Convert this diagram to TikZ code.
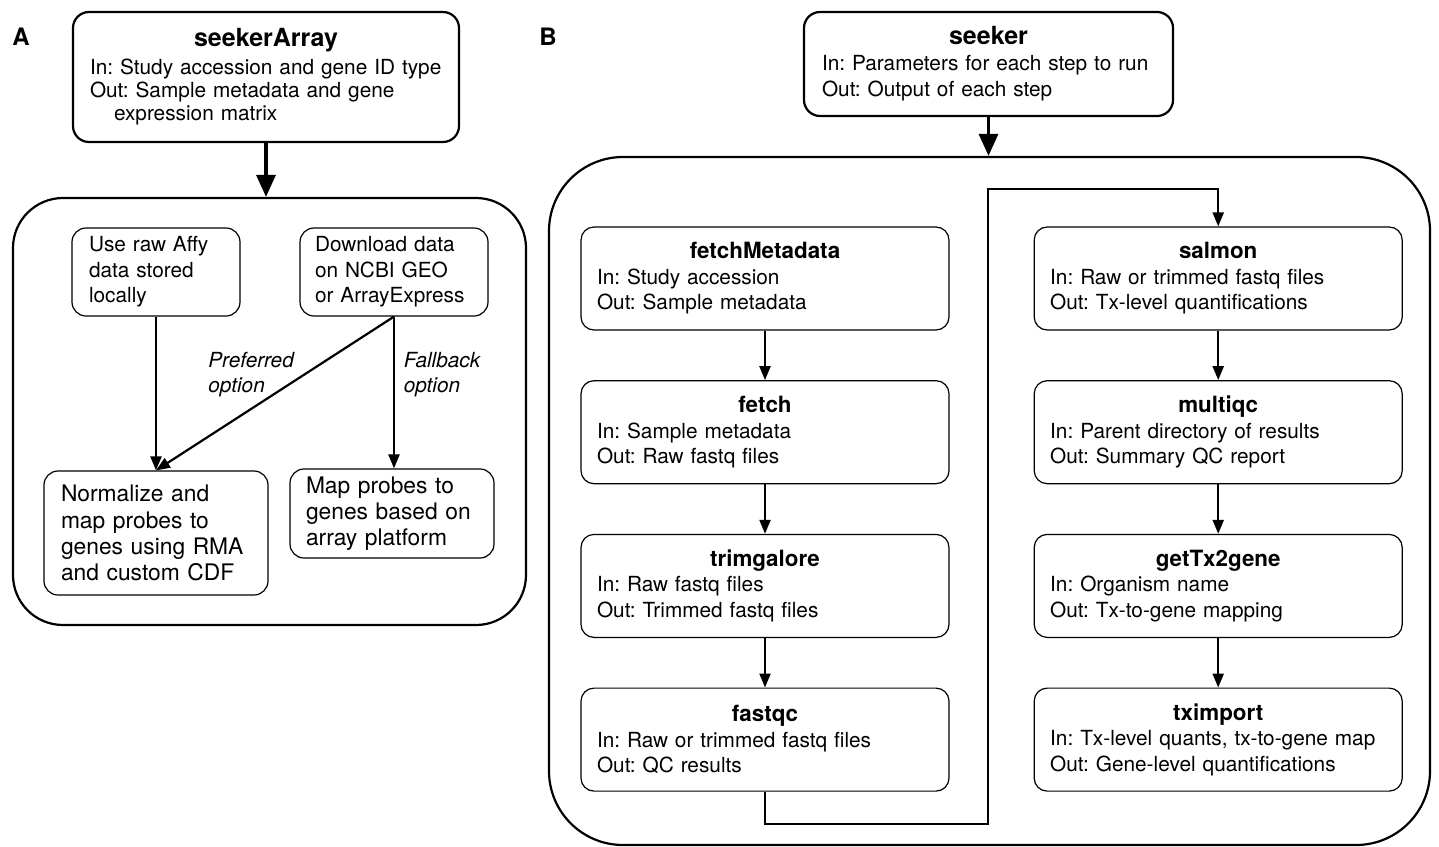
\documentclass[tikz,border=0pt]{standalone}
\usepackage{fontspec}
\setmainfont{TeX Gyre Heros}
\usetikzlibrary{arrows.meta,positioning}

\newcommand{\boxtitle}[2]{{\centering\fontsize{#1}{#1}\selectfont\bfseries #2\par}}

\begin{document}
\frenchspacing
\begin{tikzpicture}[x=0.5pt, y=-0.5pt,
    font=\fontsize{10.4}{12.75}\selectfont,
    topbox/.style={draw, line width=1.1pt, rounded corners=8pt, align=left, inner sep=0pt},
    stepbox/.style={draw, line width=0.6pt, rounded corners=6.5pt, align=left,
                    minimum width=184pt, minimum height=51.5pt, text width=168pt, inner sep=0pt},
    plainbox/.style={draw, line width=0.6pt, rounded corners=7pt, align=left, inner sep=0pt},
    panelbox/.style={draw, line width=1.1pt},
    panel/.style={font=\fontsize{12}{12}\selectfont\bfseries},
    link/.style={-{Triangle[length=7pt,width=5.5pt]}, line width=1.1pt},
    biglink/.style={-{Triangle[length=11pt,width=9.5pt]}, line width=1.6pt},
    lbl/.style={font=\fontsize{10.4}{12.5}\selectfont\itshape, align=left}]

    \useasboundingbox (0,0) rectangle (1439,846);

    % A: seekerArray
    \node[panel] (labA) at (21,37) {A};
    \node[topbox, minimum width=193pt, minimum height=65pt, text width=176pt,
          font=\fontsize{10.4}{11.5}\selectfont] (seekerArray) at (266,77)
        {\boxtitle{12.5}{seekerArray}\vspace{2.5pt}In: Study accession and gene ID type\\Out: Sample metadata and gene\\\hspace*{12pt}expression matrix};
    \node[panelbox, rounded corners=25pt, minimum width=256.5pt, minimum height=213.5pt] (arrayBox) at (269.5,411.5) {};

    \node[plainbox, minimum width=84pt, minimum height=44pt, text width=67pt] (affy) at (156,272)
        {Use raw Affy\\data stored\\locally};
    \node[plainbox, minimum width=94pt, minimum height=44pt, text width=79pt] (download) at (394,272)
        {Download data\\on NCBI GEO\\or ArrayExpress};
    \node[plainbox, minimum width=112pt, minimum height=62pt, text width=95pt,
          font=\fontsize{11.4}{13.1}\selectfont] (normalize) at (156,533)
        {Normalize and\\map probes to\\genes using RMA\\and custom CDF};
    \node[plainbox, minimum width=102pt, minimum height=44.5pt, text width=86pt,
          font=\fontsize{11.4}{13.1}\selectfont] (mapProbes) at (392,513.5)
        {Map probes to\\genes based on\\array platform};

    \draw[biglink] (seekerArray.south) -- (seekerArray.south |- arrayBox.north);
    \draw[link] (affy) -- (normalize);
    \draw[link] (download.south) -- node[lbl, pos=0.38, left=1pt]{Preferred\\option} (normalize.north);
    \draw[link] (download.south) -- node[lbl, pos=0.38, right=1pt]{Fallback\\option} (download.south |- mapProbes.north);

    % B: seeker
    \node[panel] (labB) at (548,37) {B};
    \node[topbox, minimum width=184.5pt, minimum height=52pt, text width=166.5pt,
          font=\fontsize{10.4}{13}\selectfont] (seeker) at (988.5,64)
        {\boxtitle{12.5}{seeker}In: Parameters for each step to run\\Out: Output of each step};
    \node[panelbox, rounded corners=37pt, minimum width=440.5pt, minimum height=344pt] (seekerBox) at (989.5,501) {};

    \node[stepbox] (fetchMetadata) at (765,278.5)
        {\boxtitle{11.2}{fetchMetadata}In: Study accession\\Out: Sample metadata};
    \node[stepbox, below=24.75pt of fetchMetadata] (fetch)
        {\boxtitle{11.2}{fetch}In: Sample metadata\\Out: Raw fastq files};
    \node[stepbox, below=24.75pt of fetch] (trimgalore)
        {\boxtitle{11.2}{trimgalore}In: Raw fastq files\\Out: Trimmed fastq files};
    \node[stepbox, below=24.75pt of trimgalore] (fastqc)
        {\boxtitle{11.2}{fastqc}In: Raw or trimmed fastq files\\Out: QC results};

    \node[stepbox, right=42pt of fetchMetadata] (salmon)
        {\boxtitle{11.2}{salmon}In: Raw or trimmed fastq files\\Out: Tx-level quantifications};
    \node[stepbox, below=24.75pt of salmon] (multiqc)
        {\boxtitle{11.2}{multiqc}In: Parent directory of results\\Out: Summary QC report};
    \node[stepbox, below=24.75pt of multiqc] (getTx2gene)
        {\boxtitle{11.2}{getTx2gene}In: Organism name\\Out: Tx-to-gene mapping};
    \node[stepbox, below=24.75pt of getTx2gene] (tximport)
        {\boxtitle{11.2}{tximport}In: Tx-level quants, tx-to-gene map\\Out: Gene-level quantifications};

    \draw[biglink] (seeker.south) -- (seeker.south |- seekerBox.north);
    \foreach \a/\b in {fetchMetadata/fetch, fetch/trimgalore, trimgalore/fastqc,
                       salmon/multiqc, multiqc/getTx2gene, getTx2gene/tximport}
        \draw[link] (\a) -- (\b);

    \coordinate (loopTop) at (988,189);
    \draw[link] (fastqc.south) -- ++(0,32) -| (loopTop) -| (salmon.north);
\end{tikzpicture}
\end{document}
